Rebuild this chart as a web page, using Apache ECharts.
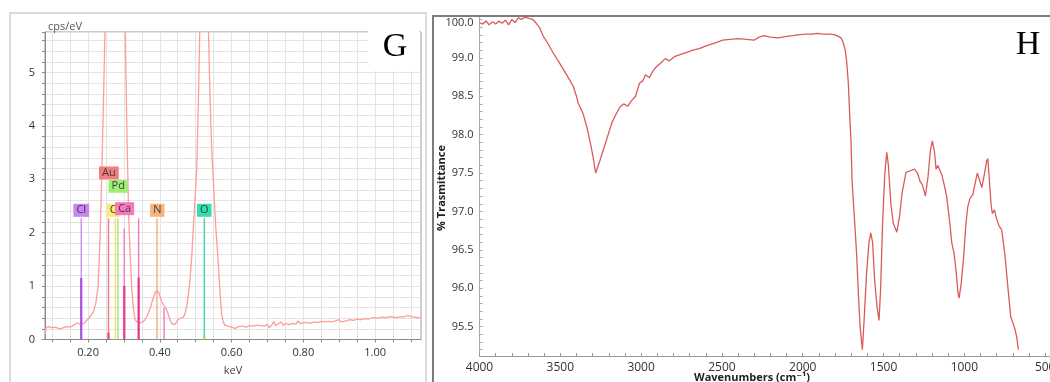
<!DOCTYPE html>
<html><head><meta charset="utf-8">
<script src="https://cdn.jsdelivr.net/npm/echarts@6/dist/echarts.min.js"></script>
<style>html,body{margin:0;padding:0;background:#fff}#c{width:1050px;height:382px}</style>
</head><body><div id="c"></div><script>
// ---------- Panel G: EDS spectrum ----------
const edsKeV = [0.080,0.083,0.090,0.100,0.110,0.120,0.130,0.140,0.150,0.160,0.170,0.178,0.188,0.198,0.206,0.216,0.222,0.228,0.234,0.240,0.246,0.252,0.262,0.277,0.292,0.302,0.308,0.313,0.318,0.322,0.327,0.331,0.338,0.345,0.352,0.359,0.366,0.373,0.380,0.387,0.392,0.397,0.401,0.406,0.410,0.415,0.419,0.424,0.429,0.434,0.438,0.443,0.447,0.452,0.458,0.465,0.470,0.475,0.480,0.484,0.489,0.493,0.498,0.503,0.508,0.512,0.518,0.524,0.530,0.535,0.540,0.545,0.549,0.556,0.563,0.568,0.572,0.577,0.581,0.590,0.600,0.610,0.620,0.630,0.640,0.650,0.660,0.670,0.680,0.690,0.700,0.705,0.712,0.718,0.722,0.730,0.738,0.744,0.752,0.760,0.770,0.780,0.785,0.790,0.800,0.810,0.820,0.830,0.840,0.850,0.860,0.870,0.880,0.890,0.900,0.905,0.910,0.920,0.930,0.940,0.950,0.960,0.970,0.980,0.990,1.000,1.010,1.020,1.030,1.040,1.050,1.060,1.070,1.080,1.090,1.100,1.110,1.120,1.128];
const edsCps = [0.10,0.22,0.24,0.22,0.23,0.20,0.22,0.24,0.23,0.27,0.31,0.28,0.30,0.37,0.43,0.53,0.70,1.00,1.99,3.60,5.40,7.5,9.5,10.5,9.5,6.5,4.0,2.36,1.50,0.93,0.55,0.37,0.32,0.31,0.33,0.37,0.46,0.58,0.74,0.88,0.92,0.88,0.80,0.70,0.65,0.61,0.56,0.46,0.36,0.29,0.27,0.29,0.33,0.38,0.40,0.41,0.48,0.62,0.85,1.11,1.55,2.05,2.60,3.2,4.6,6.0,8.0,9.0,8.0,6.0,4.5,3.5,3.0,2.1,1.43,0.85,0.49,0.33,0.27,0.25,0.23,0.21,0.24,0.25,0.23,0.26,0.25,0.27,0.26,0.25,0.28,0.22,0.27,0.34,0.26,0.29,0.33,0.27,0.30,0.28,0.30,0.29,0.35,0.30,0.31,0.32,0.30,0.33,0.32,0.34,0.33,0.34,0.33,0.35,0.37,0.33,0.36,0.35,0.37,0.36,0.38,0.37,0.39,0.38,0.40,0.41,0.40,0.42,0.41,0.43,0.42,0.41,0.43,0.42,0.45,0.43,0.42,0.41,0.40];

// element marker lines (keV, line top, darker core height)
const markerKeV  = [0.181, 0.257, 0.276, 0.283, 0.301, 0.341, 0.392, 0.412, 0.524];
const markerTop  = [2.27,  2.27,  2.27,  2.27,  2.08,  2.27,  2.27,  0.59,  2.27];
const markerCore = [1.15,  0.13,  0,     0,     1.00,  1.16,  0,     0,     0.10];
const markerElem = ['Cl','Au','C','Pd','Ca','Ca','N','Ca','O'];

// element label boxes
const labelNames = ['Cl','Au','C','Pd','Ca','N','O'];
const labelKeV   = [0.181, 0.258, 0.270, 0.284, 0.302, 0.393, 0.524];
const labelCps   = [2.42, 3.12, 2.42, 2.87, 2.45, 2.42, 2.42];

const gXTickLabels = [0.20, 0.40, 0.60, 0.80, 1.00];
const gYTickLabels = [0, 1, 2, 3, 4, 5];

// ---------- Panel H: FTIR ----------
const ftirWavenumber = [4000,3980,3960,3940,3920,3900,3880,3860,3840,3820,3800,3780,3760,3740,3720,3708,3690,3670,3657,3630,3605,3580,3543,3510,3481,3450,3420,3400,3389,3360,3337,3310,3295,3281,3260,3234,3210,3182,3157,3131,3108,3083,3060,3035,3010,2990,2973,2949,2930,2912,2880,2851,2827,2790,2750,2717,2680,2640,2594,2550,2520,2496,2450,2398,2350,2301,2270,2240,2200,2154,2100,2060,2032,1980,1940,1910,1870,1830,1800,1780,1763,1750,1738,1728,1718,1708,1701,1695,1680,1667,1655,1645,1636,1631,1620,1605,1590,1579,1568,1555,1540,1528,1518,1505,1492,1480,1470,1455,1440,1418,1400,1385,1361,1335,1309,1290,1274,1260,1241,1225,1210,1198,1185,1175,1165,1157,1140,1125,1109,1090,1078,1064,1050,1040,1033,1020,1006,990,979,965,948,935,920,905,892,875,862,855,845,835,827,814,800,785,769,750,730,713,700,686,675,666];
const ftirTransmittance = [99.46,99.44,99.48,99.43,99.47,99.44,99.48,99.45,99.49,99.43,99.50,99.46,99.52,99.50,99.53,99.54,99.51,99.50,99.47,99.40,99.28,99.20,99.06,98.95,98.85,98.74,98.63,98.50,98.41,98.28,98.11,97.85,97.68,97.50,97.63,97.80,97.96,98.15,98.26,98.36,98.40,98.37,98.44,98.50,98.67,98.70,98.78,98.74,98.82,98.87,98.93,98.99,98.96,99.02,99.05,99.07,99.10,99.12,99.16,99.19,99.21,99.23,99.24,99.25,99.24,99.23,99.27,99.29,99.27,99.26,99.28,99.29,99.30,99.31,99.31,99.32,99.31,99.31,99.30,99.28,99.26,99.20,99.11,98.95,98.67,98.19,97.90,97.41,96.90,96.46,95.90,95.50,95.30,95.20,95.60,96.20,96.60,96.72,96.60,96.10,95.75,95.58,96.00,96.90,97.50,97.77,97.60,97.10,96.85,96.73,96.95,97.25,97.51,97.53,97.55,97.50,97.39,97.35,97.20,97.45,97.80,97.92,97.78,97.55,97.60,97.62,97.48,97.35,97.19,96.85,96.59,96.46,96.20,95.95,95.87,96.05,96.37,96.85,97.06,97.17,97.22,97.35,97.50,97.40,97.31,97.50,97.66,97.69,97.40,97.10,96.97,97.02,96.90,96.81,96.76,96.45,96.00,95.63,95.55,95.46,95.35,95.20];

const hXTickLabels = [4000, 3500, 3000, 2500, 2000, 1500, 1000, 500];
const hYTickValues = [95.5, 96.0, 96.5, 97.0, 97.5, 98.0, 98.5, 99.0, 99.45];
const hYTickLabels = ['95.5','96.0','96.5','97.0','97.5','98.0','98.5','99.0','100.0'];

// ---------- styles ----------
const elemStyle = {
  Cl: {line:'#c98ff0', core:'#a94fe6', box:'#c985f0'},
  Au: {line:'#f07c7c', core:'#e84a5a', box:'#f47e7e'},
  C:  {line:'#ece27a', core:'#e0d040', box:'#f6ee6c'},
  Pd: {line:'#b2e07a', core:'#90d050', box:'#9cee74'},
  Ca: {line:'#f27ab8', core:'#e8388e', box:'#f778be'},
  N:  {line:'#f2b07a', core:'#e89050', box:'#f8b27a'},
  O:  {line:'#3ed8a8', core:'#9be070', box:'#2fdfae'}
};
const FONT = '"Open Sans", "Noto Sans", sans-serif';

const ticksG = []; for (let k = 2; k <= 22; k++) ticksG.push(+(k*0.05).toFixed(2));
const ticksHX = []; for (let w = 400; w <= 4000; w += 100) ticksHX.push(w);
const ticksHY = []; for (let k = 952; k <= 995; k++) ticksHY.push(+(k/10).toFixed(1));

const series = [];
series.push({
  type:'line', xAxisIndex:0, yAxisIndex:0, symbol:'none', clip:true, z:3,
  lineStyle:{color:'#ff9c9c', width:1.3},
  data: edsKeV.map((x,i)=>[x, edsCps[i]])
});
markerKeV.forEach((x,i)=>{
  const st = elemStyle[markerElem[i]];
  series.push({type:'line', xAxisIndex:0, yAxisIndex:0, symbol:'none', silent:true, z:4,
    lineStyle:{color:st.line, width:1.4}, data:[[x,0],[x,markerTop[i]]]});
  if (markerCore[i] > 0) {
    series.push({type:'line', xAxisIndex:0, yAxisIndex:0, symbol:'none', silent:true, z:5,
      lineStyle:{color:st.core, width:2.2}, data:[[x,0],[x,markerCore[i]]]});
  }
});
series.push({
  type:'scatter', xAxisIndex:0, yAxisIndex:0, symbolSize:1, z:10,
  itemStyle:{color:'rgba(0,0,0,0)', opacity:1},
  data: labelNames.map((n,i)=>({
    value:[labelKeV[i], labelCps[i]], name:n,
    label:{show:true, position:'inside', formatter:n, backgroundColor:elemStyle[n].box, opacity:1,
      color:'#3f3f3f', fontSize:11, fontFamily:FONT, padding:[1,3,0,3], lineHeight:12}
  }))
});
series.push({
  type:'line', xAxisIndex:1, yAxisIndex:1, symbol:'none', clip:true, z:3,
  lineStyle:{color:'#dc5a5a', width:1.3},
  data: ftirWavenumber.map((x,i)=>[x, ftirTransmittance[i]])
});

const option = {
  animation:false,
  backgroundColor:'#fff',
  grid:[
    {left:45, top:32, width:376, height:307.5, show:true, borderColor:'#9a9a9a', borderWidth:1, backgroundColor:'#fff', outerBoundsMode:'none', containLabel:false},
    {left:479.5, top:16, width:598, height:340, outerBoundsMode:'none', containLabel:false}
  ],
  xAxis:[
    {type:'value', gridIndex:0, min:0.08, max:1.128,
      axisLine:{lineStyle:{color:'#8a8a8a'}},
      axisTick:{customValues:ticksG, length:3, lineStyle:{color:'#8a8a8a'}},
      axisLabel:{customValues:gXTickLabels, formatter:v=>v.toFixed(2), color:'#333', fontSize:11, fontFamily:FONT, margin:8},
      splitLine:{show:true, lineStyle:{color:'#e4e4e4'}}},
    {type:'value', gridIndex:1, inverse:true, min:300, max:4000,
      axisLine:{lineStyle:{color:'#9a9a9a'}},
      axisTick:{customValues:ticksHX, inside:true, length:3, lineStyle:{color:'#9a9a9a'}},
      axisLabel:{customValues:hXTickLabels, formatter:v=>String(v), color:'#333', fontSize:12, fontFamily:FONT, margin:6, hideOverlap:false},
      splitLine:{show:false}}
  ],
  yAxis:[
    {type:'value', gridIndex:0, min:0, max:5.76, interval:0.2,
      axisLine:{show:true, lineStyle:{color:'#8a8a8a'}},
      axisTick:{show:true, length:3, lineStyle:{color:'#8a8a8a'}},
      axisLabel:{customValues:gYTickLabels, formatter:v=>String(Math.round(v)), color:'#333', fontSize:11, fontFamily:FONT, margin:10},
      splitLine:{show:true, lineStyle:{color:'#e4e4e4'}}},
    {type:'value', gridIndex:1, min:95.118, max:99.545,
      axisLine:{show:true, lineStyle:{color:'#a8a8a8'}},
      axisTick:{show:true, customValues:ticksHY, inside:true, length:3, lineStyle:{color:'#a8a8a8'}},
      axisLabel:{customValues:hYTickValues, formatter:v=>{const i=hYTickValues.findIndex(t=>Math.abs(t-v)<1e-6); return i>=0?hYTickLabels[i]:'';}, color:'#333', fontSize:11, fontFamily:FONT, margin:6},
      splitLine:{show:false}}
  ],
  graphic:[
    {type:'rect', shape:{x:10, y:13, width:416, height:380}, style:{fill:'none', stroke:'#cfcfcf', lineWidth:1.5}, z:50},
    {type:'rect', shape:{x:433, y:16, width:700, height:400}, style:{fill:'none', stroke:'#7c7c7c', lineWidth:2}, z:50},
    {type:'rect', shape:{x:368, y:25, width:51, height:46}, style:{fill:'#fff'}, z:100},
    {type:'text', x:395, y:47, z:101, style:{text:'G', font:'normal 34px "Liberation Serif", "DejaVu Serif", serif', fill:'#000', textAlign:'center', textVerticalAlign:'middle'}},
    {type:'text', x:1028, y:45, z:101, style:{text:'H', font:'normal 34px "Liberation Serif", "DejaVu Serif", serif', fill:'#000', textAlign:'center', textVerticalAlign:'middle'}},
    {type:'text', x:48, y:27, z:101, style:{text:'cps/eV', font:'normal 11px "Open Sans", sans-serif', fill:'#555', textAlign:'left', textVerticalAlign:'middle'}},
    {type:'text', x:233, y:371, z:101, style:{text:'keV', font:'normal 11px "Open Sans", sans-serif', fill:'#444', textAlign:'center', textVerticalAlign:'middle'}},
    {type:'text', x:442, y:188, rotation:Math.PI/2, z:101, style:{text:'% Trasmittance', font:'bold 11px "Open Sans", sans-serif', fill:'#222', textAlign:'center', textVerticalAlign:'middle'}},
    {type:'text', x:752, y:378, z:101, style:{text:'Wavenumbers (cm\u207B\u00B9)', font:'bold 11px "Open Sans", "DejaVu Sans", sans-serif', fill:'#222', textAlign:'center', textVerticalAlign:'middle'}}
  ],
  series: series
};
const chart = echarts.init(document.getElementById('c'), null, {renderer:'canvas'});
chart.setOption(option);
</script></body></html>
